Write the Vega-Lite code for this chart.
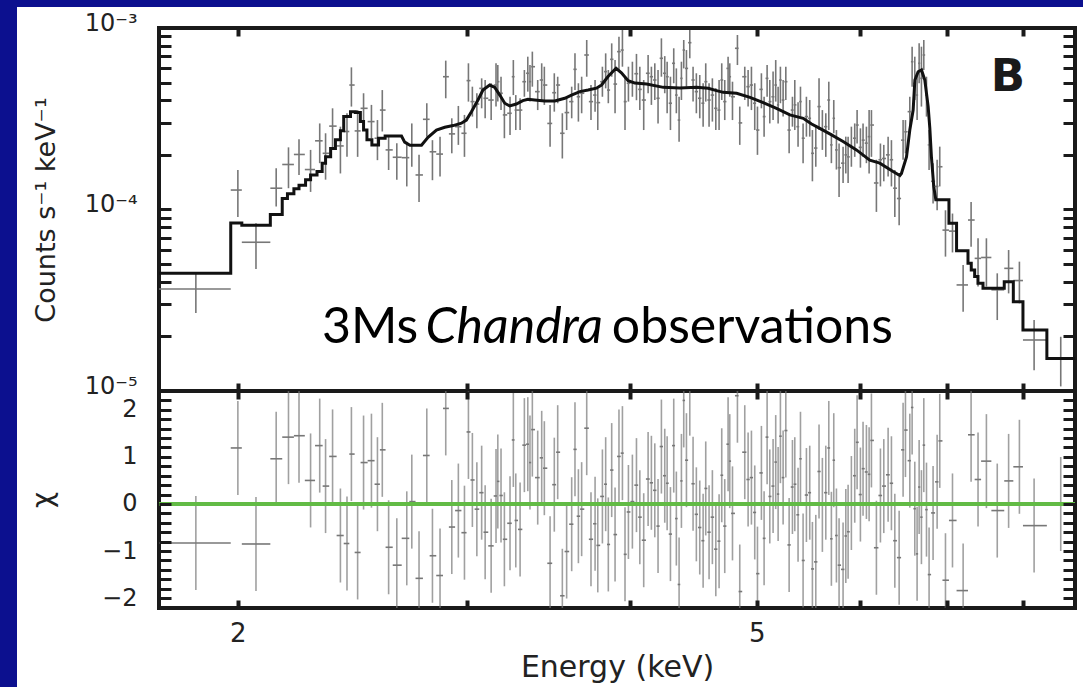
{
"$schema": "https://vega.github.io/schema/vega-lite/v6.json",
"padding": 0,
"background": "white",
"bounds": "flush",
"spacing": 0,
"datasets": {
"spec": [
{"e":1.857,"a":1.74,"b":1.975,"c":3.65e-5,"lo":2.69e-5,"hi":4.53e-5,"r":-0.83},
{"e":2.0,"a":1.975,"b":2.014,"c":1.28e-4,"lo":9.1e-5,"hi":1.65e-4,"r":1.19},
{"e":2.065,"a":2.014,"b":2.118,"c":6.6e-5,"lo":4.7e-5,"hi":8.4e-5,"r":-0.85},
{"e":2.140,"a":2.118,"b":2.163,"c":1.31e-4,"lo":1.04e-4,"hi":1.69e-4,"r":0.96},
{"e":2.187,"a":2.163,"b":2.208,"c":1.77e-4,"lo":1.31e-4,"hi":2.20e-4,"r":1.42},
{"e":2.228,"a":2.208,"b":2.251,"c":2.01e-4,"lo":1.55e-4,"hi":2.44e-4,"r":1.45},
{"e":2.274,"a":2.251,"b":2.292,"c":1.66e-4,"lo":1.25e-4,"hi":2.13e-4,"r":0.50},
{"e":2.311,"a":2.292,"b":2.323,"c":2.39e-4,"lo":1.80e-4,"hi":2.98e-4,"r":1.24},
{"e":2.335,"a":2.323,"b":2.350,"c":2.04e-4,"lo":1.46e-4,"hi":2.63e-4,"r":0.38},
{"e":2.364,"a":2.350,"b":2.381,"c":2.88e-4,"lo":2.17e-4,"hi":3.61e-4,"r":1.01},
{"e":2.397,"a":2.381,"b":2.411,"c":2.24e-4,"lo":1.58e-4,"hi":2.86e-4,"r":-0.67},
{"e":2.425,"a":2.411,"b":2.435,"c":2.69e-4,"lo":1.95e-4,"hi":3.39e-4,"r":-0.84},
{"e":2.444,"a":2.435,"b":2.458,"c":4.85e-4,"lo":3.69e-4,"hi":6.07e-4,"r":1.06},
{"e":2.471,"a":2.458,"b":2.484,"c":2.71e-4,"lo":1.95e-4,"hi":3.53e-4,"r":-1.03},
{"e":2.497,"a":2.484,"b":2.515,"c":3.61e-4,"lo":2.86e-4,"hi":4.37e-4,"r":0.88},
{"e":2.532,"a":2.515,"b":2.546,"c":3.05e-4,"lo":2.47e-4,"hi":3.77e-4,"r":0.92},
{"e":2.559,"a":2.546,"b":2.570,"c":2.47e-4,"lo":1.87e-4,"hi":3.11e-4,"r":0.42},
{"e":2.581,"a":2.570,"b":2.596,"c":3.53e-4,"lo":2.69e-4,"hi":4.55e-4,"r":1.15},
{"e":2.610,"a":2.596,"b":2.629,"c":2.13e-4,"lo":1.65e-4,"hi":2.52e-4,"r":-0.92},
{"e":2.648,"a":2.629,"b":2.671,"c":1.94e-4,"lo":1.46e-4,"hi":2.32e-4,"r":-1.3},
{"e":2.695,"a":2.671,"b":2.707,"c":1.93e-4,"lo":1.34e-4,"hi":2.36e-4,"r":-0.73},
{"e":2.719,"a":2.707,"b":2.737,"c":2.27e-4,"lo":1.72e-4,"hi":2.98e-4,"r":0.05},
{"e":2.754,"a":2.737,"b":2.773,"c":1.55e-4,"lo":1.10e-4,"hi":2.00e-4,"r":-1.58},
{"e":2.792,"a":2.773,"b":2.806,"c":3.14e-4,"lo":2.52e-4,"hi":3.85e-4,"r":1.03},
{"e":2.820,"a":2.806,"b":2.839,"c":2.08e-4,"lo":1.45e-4,"hi":2.41e-4,"r":-1.1},
{"e":2.858,"a":2.839,"b":2.873,"c":2.02e-4,"lo":1.52e-4,"hi":2.52e-4,"r":-1.52},
{"e":2.887,"a":2.873,"b":2.903,"c":5.39e-4,"lo":4.10e-4,"hi":6.61e-4,"r":2.03},
{"e":2.918,"a":2.903,"b":2.935,"c":2.61e-4,"lo":2.04e-4,"hi":3.18e-4,"r":-0.49},
{"e":2.952,"a":2.935,"b":2.968,"c":2.86e-4,"lo":2.27e-4,"hi":3.72e-4,"r":-0.14},
{"e":2.984,"a":2.968,"b":2.995,"c":2.63e-4,"lo":1.95e-4,"hi":3.32e-4,"r":-0.61},
{"e":3.005,"a":2.995,"b":3.016,"c":5.13e-4,"lo":3.93e-4,"hi":6.39e-4,"r":1.53},
{"e":3.026,"a":3.016,"b":3.038,"c":3.93e-4,"lo":3.25e-4,"hi":4.75e-4,"r":0.51},
{"e":3.050,"a":3.038,"b":3.063,"c":3.81e-4,"lo":2.80e-4,"hi":4.37e-4,"r":-0.11},
{"e":3.076,"a":3.063,"b":3.086,"c":4.65e-4,"lo":3.61e-4,"hi":5.28e-4,"r":0.24},
{"e":3.095,"a":3.086,"b":3.112,"c":4.10e-4,"lo":3.18e-4,"hi":5.17e-4,"r":-0.6},
{"e":3.128,"a":3.112,"b":3.142,"c":4.01e-4,"lo":3.11e-4,"hi":4.96e-4,"r":-0.89},
{"e":3.155,"a":3.142,"b":3.160,"c":4.85e-4,"lo":3.69e-4,"hi":6.39e-4,"r":0.17},
{"e":3.165,"a":3.160,"b":3.174,"c":5.06e-4,"lo":3.93e-4,"hi":6.25e-4,"r":0.48},
{"e":3.183,"a":3.174,"b":3.193,"c":4.37e-4,"lo":3.53e-4,"hi":5.39e-4,"r":0.18},
{"e":3.202,"a":3.193,"b":3.218,"c":3.32e-4,"lo":2.47e-4,"hi":3.93e-4,"r":-0.75},
{"e":3.234,"a":3.218,"b":3.244,"c":3.39e-4,"lo":2.57e-4,"hi":4.18e-4,"r":-0.41},
{"e":3.253,"a":3.244,"b":3.260,"c":5.39e-4,"lo":4.27e-4,"hi":6.66e-4,"r":1.36},
{"e":3.267,"a":3.260,"b":3.280,"c":3.53e-4,"lo":2.74e-4,"hi":4.27e-4,"r":-0.35},
{"e":3.292,"a":3.280,"b":3.305,"c":3.53e-4,"lo":2.74e-4,"hi":4.10e-4,"r":-0.54},
{"e":3.317,"a":3.305,"b":3.327,"c":5.06e-4,"lo":4.18e-4,"hi":5.87e-4,"r":1.25},
{"e":3.337,"a":3.327,"b":3.344,"c":5.63e-4,"lo":4.46e-4,"hi":6.95e-4,"r":1.27},
{"e":3.350,"a":3.344,"b":3.357,"c":5.06e-4,"lo":3.93e-4,"hi":6.25e-4,"r":0.88},
{"e":3.364,"a":3.357,"b":3.380,"c":6.12e-4,"lo":4.75e-4,"hi":7.41e-4,"r":1.58},
{"e":3.396,"a":3.380,"b":3.408,"c":4.46e-4,"lo":3.53e-4,"hi":5.17e-4,"r":0.56},
{"e":3.420,"a":3.408,"b":3.428,"c":5.17e-4,"lo":3.93e-4,"hi":6.39e-4,"r":0.98},
{"e":3.436,"a":3.428,"b":3.454,"c":4.85e-4,"lo":3.77e-4,"hi":6.12e-4,"r":0.76},
{"e":3.471,"a":3.454,"b":3.484,"c":2.98e-4,"lo":2.22e-4,"hi":3.77e-4,"r":-1.26},
{"e":3.497,"a":3.484,"b":3.508,"c":4.40e-4,"lo":3.46e-4,"hi":5.63e-4,"r":0.41},
{"e":3.518,"a":3.508,"b":3.533,"c":4.85e-4,"lo":3.85e-4,"hi":5.39e-4,"r":1.1},
{"e":3.547,"a":3.533,"b":3.561,"c":2.63e-4,"lo":1.91e-4,"hi":3.39e-4,"r":-1.95},
{"e":3.574,"a":3.561,"b":3.590,"c":3.42e-4,"lo":2.74e-4,"hi":4.18e-4,"r":-1.01},
{"e":3.606,"a":3.590,"b":3.617,"c":3.93e-4,"lo":3.18e-4,"hi":4.75e-4,"r":-0.43},
{"e":3.627,"a":3.617,"b":3.638,"c":5.92e-4,"lo":4.55e-4,"hi":7.25e-4,"r":1.16},
{"e":3.649,"a":3.638,"b":3.660,"c":4.18e-4,"lo":3.05e-4,"hi":4.96e-4,"r":-0.26},
{"e":3.670,"a":3.660,"b":3.687,"c":4.37e-4,"lo":3.39e-4,"hi":5.39e-4,"r":-0.11},
{"e":3.703,"a":3.687,"b":3.717,"c":7.10e-4,"lo":5.39e-4,"hi":8.59e-4,"r":1.61},
{"e":3.731,"a":3.717,"b":3.745,"c":3.93e-4,"lo":3.11e-4,"hi":4.85e-4,"r":-0.75},
{"e":3.758,"a":3.745,"b":3.767,"c":4.27e-4,"lo":3.46e-4,"hi":5.17e-4,"r":-0.42},
{"e":3.776,"a":3.767,"b":3.792,"c":3.88e-4,"lo":2.74e-4,"hi":4.65e-4,"r":-0.88},
{"e":3.807,"a":3.792,"b":3.818,"c":5.06e-4,"lo":4.18e-4,"hi":6.12e-4,"r":0.16},
{"e":3.829,"a":3.818,"b":3.838,"c":5.75e-4,"lo":4.65e-4,"hi":7.25e-4,"r":0.42},
{"e":3.847,"a":3.838,"b":3.859,"c":4.55e-4,"lo":3.85e-4,"hi":5.87e-4,"r":-0.86},
{"e":3.870,"a":3.859,"b":3.882,"c":6.72e-4,"lo":5.39e-4,"hi":8.23e-4,"r":0.72},
{"e":3.893,"a":3.882,"b":3.907,"c":4.91e-4,"lo":3.39e-4,"hi":6.66e-4,"r":-0.65},
{"e":3.920,"a":3.907,"b":3.932,"c":7.41e-4,"lo":5.87e-4,"hi":8.96e-4,"r":1.01},
{"e":3.944,"a":3.932,"b":3.953,"c":7.56e-4,"lo":6.12e-4,"hi":9.75e-4,"r":1.08},
{"e":3.962,"a":3.953,"b":3.974,"c":3.93e-4,"lo":2.74e-4,"hi":5.39e-4,"r":-1.07},
{"e":3.986,"a":3.974,"b":4.000,"c":4.96e-4,"lo":3.93e-4,"hi":6.12e-4,"r":-0.17},
{"e":4.014,"a":4.000,"b":4.028,"c":5.06e-4,"lo":4.18e-4,"hi":6.52e-4,"r":0.05},
{"e":4.043,"a":4.028,"b":4.055,"c":5.6e-4,"lo":4.0e-4,"hi":7.2e-4,"r":0.4},
{"e":4.067,"a":4.055,"b":4.081,"c":4.59e-4,"lo":3.53e-4,"hi":6.12e-4,"r":-0.28},
{"e":4.095,"a":4.081,"b":4.111,"c":4.01e-4,"lo":2.74e-4,"hi":5.17e-4,"r":-0.77},
{"e":4.127,"a":4.111,"b":4.139,"c":5.63e-4,"lo":4.37e-4,"hi":7.10e-4,"r":0.53},
{"e":4.151,"a":4.139,"b":4.163,"c":5.39e-4,"lo":3.77e-4,"hi":6.12e-4,"r":0.45},
{"e":4.176,"a":4.163,"b":4.188,"c":5.17e-4,"lo":4.01e-4,"hi":6.39e-4,"r":0.29},
{"e":4.200,"a":4.188,"b":4.212,"c":4.10e-4,"lo":2.98e-4,"hi":5.87e-4,"r":-0.47},
{"e":4.225,"a":4.212,"b":4.237,"c":6.81e-4,"lo":5.39e-4,"hi":8.77e-4,"r":1.22},
{"e":4.250,"a":4.237,"b":4.259,"c":5.63e-4,"lo":4.37e-4,"hi":7.0e-4,"r":0.6},
{"e":4.268,"a":4.259,"b":4.280,"c":5.39e-4,"lo":3.39e-4,"hi":6.52e-4,"r":0.44},
{"e":4.293,"a":4.280,"b":4.305,"c":3.85e-4,"lo":2.74e-4,"hi":5.39e-4,"r":-0.64},
{"e":4.318,"a":4.305,"b":4.328,"c":6.39e-4,"lo":4.96e-4,"hi":7.73e-4,"r":1.24},
{"e":4.338,"a":4.328,"b":4.348,"c":4.27e-4,"lo":3.39e-4,"hi":5.99e-4,"r":-0.31},
{"e":4.359,"a":4.348,"b":4.368,"c":3.11e-4,"lo":2.36e-4,"hi":4.18e-4,"r":-1.71},
{"e":4.377,"a":4.368,"b":4.386,"c":5.28e-4,"lo":4.01e-4,"hi":6.52e-4,"r":0.49},
{"e":4.395,"a":4.386,"b":4.405,"c":7.56e-4,"lo":5.99e-4,"hi":8.59e-4,"r":2.2},
{"e":4.416,"a":4.405,"b":4.429,"c":5.99e-4,"lo":4.75e-4,"hi":7.56e-4,"r":0.93},
{"e":4.442,"a":4.429,"b":4.455,"c":8.30e-4,"lo":6.81e-4,"hi":9.75e-4,"r":2.45},
{"e":4.468,"a":4.455,"b":4.481,"c":5.17e-4,"lo":3.93e-4,"hi":6.12e-4,"r":0.43},
{"e":4.494,"a":4.481,"b":4.507,"c":4.46e-4,"lo":3.39e-4,"hi":5.63e-4,"r":-0.22},
{"e":4.521,"a":4.507,"b":4.534,"c":4.10e-4,"lo":3.18e-4,"hi":5.51e-4,"r":-0.5},
{"e":4.548,"a":4.534,"b":4.558,"c":3.85e-4,"lo":2.86e-4,"hi":4.96e-4,"r":-0.78},
{"e":4.569,"a":4.558,"b":4.582,"c":5.06e-4,"lo":3.93e-4,"hi":6.39e-4,"r":0.33},
{"e":4.596,"a":4.582,"b":4.609,"c":4.01e-4,"lo":2.86e-4,"hi":4.96e-4,"r":-0.6},
{"e":4.623,"a":4.609,"b":4.637,"c":4.27e-4,"lo":3.05e-4,"hi":5.28e-4,"r":-0.28},
{"e":4.651,"a":4.637,"b":4.664,"c":3.61e-4,"lo":2.74e-4,"hi":4.65e-4,"r":-0.96},
{"e":4.678,"a":4.664,"b":4.689,"c":3.53e-4,"lo":2.74e-4,"hi":5.17e-4,"r":-0.79},
{"e":4.700,"a":4.689,"b":4.712,"c":5.17e-4,"lo":4.01e-4,"hi":6.39e-4,"r":0.61},
{"e":4.725,"a":4.712,"b":4.739,"c":3.93e-4,"lo":3.11e-4,"hi":5.17e-4,"r":-0.47},
{"e":4.753,"a":4.739,"b":4.760,"c":5.99e-4,"lo":4.46e-4,"hi":6.95e-4,"r":1.27},
{"e":4.767,"a":4.760,"b":4.778,"c":5.39e-4,"lo":4.18e-4,"hi":6.39e-4,"r":0.91},
{"e":4.790,"a":4.778,"b":4.811,"c":4.18e-4,"lo":3.11e-4,"hi":5.06e-4,"r":-0.2},
{"e":4.832,"a":4.811,"b":4.842,"c":7.73e-4,"lo":6.25e-4,"hi":9.15e-4,"r":2.3},
{"e":4.852,"a":4.842,"b":4.873,"c":3.00e-4,"lo":2.27e-4,"hi":3.69e-4,"r":-1.86},
{"e":4.895,"a":4.873,"b":4.909,"c":5.39e-4,"lo":4.01e-4,"hi":6.12e-4,"r":1.1},
{"e":4.924,"a":4.909,"b":4.938,"c":4.75e-4,"lo":3.69e-4,"hi":5.87e-4,"r":0.52},
{"e":4.953,"a":4.938,"b":4.967,"c":4.85e-4,"lo":3.53e-4,"hi":6.12e-4,"r":0.56},
{"e":4.982,"a":4.967,"b":4.994,"c":3.85e-4,"lo":2.74e-4,"hi":4.96e-4,"r":-0.18},
{"e":5.006,"a":4.994,"b":5.023,"c":2.74e-4,"lo":2.00e-4,"hi":3.69e-4,"r":-1.48},
{"e":5.041,"a":5.023,"b":5.053,"c":4.59e-4,"lo":3.61e-4,"hi":5.63e-4,"r":0.66},
{"e":5.065,"a":5.053,"b":5.078,"c":3.25e-4,"lo":2.52e-4,"hi":4.18e-4,"r":-0.73},
{"e":5.092,"a":5.078,"b":5.104,"c":5.28e-4,"lo":4.18e-4,"hi":6.25e-4,"r":1.42},
{"e":5.116,"a":5.104,"b":5.131,"c":3.93e-4,"lo":2.98e-4,"hi":5.17e-4,"r":0.16},
{"e":5.146,"a":5.131,"b":5.158,"c":4.18e-4,"lo":3.11e-4,"hi":5.75e-4,"r":0.38},
{"e":5.170,"a":5.158,"b":5.181,"c":4.85e-4,"lo":3.93e-4,"hi":6.66e-4,"r":0.89},
{"e":5.192,"a":5.181,"b":5.202,"c":3.77e-4,"lo":2.98e-4,"hi":4.75e-4,"r":0.21},
{"e":5.213,"a":5.202,"b":5.225,"c":5.17e-4,"lo":3.85e-4,"hi":6.12e-4,"r":1.44},
{"e":5.238,"a":5.225,"b":5.250,"c":4.01e-4,"lo":3.25e-4,"hi":5.17e-4,"r":0.56},
{"e":5.263,"a":5.250,"b":5.278,"c":5.06e-4,"lo":4.01e-4,"hi":6.12e-4,"r":1.56},
{"e":5.294,"a":5.278,"b":5.309,"c":2.74e-4,"lo":2.04e-4,"hi":3.39e-4,"r":-0.87},
{"e":5.325,"a":5.309,"b":5.336,"c":3.53e-4,"lo":2.86e-4,"hi":4.18e-4,"r":0.36},
{"e":5.347,"a":5.336,"b":5.362,"c":3.77e-4,"lo":2.74e-4,"hi":5.17e-4,"r":0.42},
{"e":5.378,"a":5.362,"b":5.389,"c":2.86e-4,"lo":2.22e-4,"hi":3.9e-4,"r":-0.23},
{"e":5.401,"a":5.389,"b":5.413,"c":3.93e-4,"lo":3.25e-4,"hi":4.75e-4,"r":0.96},
{"e":5.426,"a":5.413,"b":5.442,"c":2.47e-4,"lo":1.80e-4,"hi":2.98e-4,"r":-1.2},
{"e":5.458,"a":5.442,"b":5.474,"c":3.25e-4,"lo":2.52e-4,"hi":4.18e-4,"r":0.19},
{"e":5.490,"a":5.474,"b":5.503,"c":3.18e-4,"lo":2.52e-4,"hi":4.01e-4,"r":0.24},
{"e":5.516,"a":5.503,"b":5.532,"c":2.04e-4,"lo":1.43e-4,"hi":2.74e-4,"r":-1.38},
{"e":5.549,"a":5.532,"b":5.565,"c":2.18e-4,"lo":1.72e-4,"hi":2.86e-4,"r":-1.23},
{"e":5.581,"a":5.565,"b":5.597,"c":3.69e-4,"lo":2.74e-4,"hi":5.28e-4,"r":0.69},
{"e":5.614,"a":5.597,"b":5.631,"c":2.74e-4,"lo":2.13e-4,"hi":3.53e-4,"r":-0.02},
{"e":5.648,"a":5.631,"b":5.663,"c":2.86e-4,"lo":1.95e-4,"hi":3.39e-4,"r":0.24},
{"e":5.678,"a":5.663,"b":5.691,"c":4.01e-4,"lo":2.74e-4,"hi":5.06e-4,"r":1.19},
{"e":5.704,"a":5.691,"b":5.716,"c":2.27e-4,"lo":1.80e-4,"hi":2.63e-4,"r":-0.74},
{"e":5.728,"a":5.716,"b":5.741,"c":3.18e-4,"lo":2.63e-4,"hi":4.01e-4,"r":0.93},
{"e":5.755,"a":5.741,"b":5.768,"c":2.13e-4,"lo":1.66e-4,"hi":2.74e-4,"r":-0.67},
{"e":5.782,"a":5.768,"b":5.802,"c":1.70e-4,"lo":1.17e-4,"hi":2.31e-4,"r":-1.3},
{"e":5.823,"a":5.802,"b":5.837,"c":1.80e-4,"lo":1.40e-4,"hi":2.22e-4,"r":-1.39},
{"e":5.851,"a":5.837,"b":5.863,"c":2.00e-4,"lo":1.58e-4,"hi":2.52e-4,"r":-0.68},
{"e":5.875,"a":5.863,"b":5.892,"c":1.95e-4,"lo":1.40e-4,"hi":2.52e-4,"r":-0.59},
{"e":5.909,"a":5.892,"b":5.926,"c":2.22e-4,"lo":1.72e-4,"hi":2.86e-4,"r":0.02},
{"e":5.944,"a":5.926,"b":5.956,"c":2.47e-4,"lo":1.95e-4,"hi":2.98e-4,"r":0.6},
{"e":5.969,"a":5.956,"b":5.986,"c":2.92e-4,"lo":2.31e-4,"hi":3.53e-4,"r":1.31},
{"e":6.004,"a":5.986,"b":6.018,"c":2.2e-4,"lo":1.7e-4,"hi":2.8e-4,"r":0.2},
{"e":6.032,"a":6.018,"b":6.050,"c":2.41e-4,"lo":1.95e-4,"hi":2.98e-4,"r":0.75},
{"e":6.068,"a":6.050,"b":6.082,"c":2.32e-4,"lo":1.80e-4,"hi":2.86e-4,"r":0.68},
{"e":6.097,"a":6.082,"b":6.110,"c":2.52e-4,"lo":1.58e-4,"hi":3.53e-4,"r":0.63},
{"e":6.122,"a":6.110,"b":6.149,"c":2.92e-4,"lo":1.95e-4,"hi":3.53e-4,"r":1.35},
{"e":6.176,"a":6.149,"b":6.198,"c":1.40e-4,"lo":9.7e-5,"hi":1.88e-4,"r":-0.93},
{"e":6.220,"a":6.198,"b":6.238,"c":1.88e-4,"lo":1.34e-4,"hi":2.31e-4,"r":0.18},
{"e":6.257,"a":6.238,"b":6.281,"c":1.91e-4,"lo":1.43e-4,"hi":2.27e-4,"r":0.38},
{"e":6.305,"a":6.281,"b":6.323,"c":2.00e-4,"lo":1.52e-4,"hi":2.52e-4,"r":0.62},
{"e":6.342,"a":6.323,"b":6.361,"c":1.88e-4,"lo":1.34e-4,"hi":2.41e-4,"r":0.44},
{"e":6.380,"a":6.361,"b":6.404,"c":1.31e-4,"lo":9.1e-5,"hi":1.65e-4,"r":-0.78},
{"e":6.429,"a":6.404,"b":6.451,"c":1.15e-4,"lo":8.2e-5,"hi":1.52e-4,"r":-1.14},
{"e":6.474,"a":6.451,"b":6.487,"c":2.41e-4,"lo":1.88e-4,"hi":3.11e-4,"r":1.15},
{"e":6.501,"a":6.487,"b":6.526,"c":2.68e-4,"lo":2.04e-4,"hi":3.11e-4,"r":1.57},
{"e":6.551,"a":6.526,"b":6.564,"c":3.46e-4,"lo":2.63e-4,"hi":4.18e-4,"r":0.92},
{"e":6.578,"a":6.564,"b":6.593,"c":6.52e-4,"lo":4.75e-4,"hi":7.89e-4,"r":2.05},
{"e":6.609,"a":6.593,"b":6.622,"c":4.96e-4,"lo":4.01e-4,"hi":6.95e-4,"r":-0.1},
{"e":6.636,"a":6.622,"b":6.648,"c":4.27e-4,"lo":3.11e-4,"hi":5.63e-4,"r":-1.06},
{"e":6.660,"a":6.648,"b":6.673,"c":6.39e-4,"lo":4.96e-4,"hi":8.23e-4,"r":0.36},
{"e":6.687,"a":6.673,"b":6.701,"c":5.28e-4,"lo":3.69e-4,"hi":7.89e-4,"r":-0.28},
{"e":6.715,"a":6.701,"b":6.731,"c":7.10e-4,"lo":5.87e-4,"hi":8.59e-4,"r":1.25},
{"e":6.747,"a":6.731,"b":6.762,"c":4.27e-4,"lo":3.25e-4,"hi":5.39e-4,"r":-0.12},
{"e":6.778,"a":6.762,"b":6.802,"c":2.27e-4,"lo":1.65e-4,"hi":2.74e-4,"r":-1.5},
{"e":6.826,"a":6.802,"b":6.850,"c":1.43e-4,"lo":1.08e-4,"hi":1.80e-4,"r":-0.19},
{"e":6.875,"a":6.850,"b":6.891,"c":1.34e-4,"lo":9.9e-5,"hi":1.88e-4,"r":0.47},
{"e":6.907,"a":6.891,"b":6.94,"c":1.72e-4,"lo":1.34e-4,"hi":2.22e-4,"r":1.34},
{"e":6.977,"a":6.94,"b":7.02,"c":7.7e-5,"lo":5.5e-5,"hi":9.9e-5,"r":-1.62},
{"e":7.064,"a":7.02,"b":7.115,"c":7.6e-5,"lo":5.8e-5,"hi":9.5e-5,"r":-0.35},
{"e":7.198,"a":7.115,"b":7.26,"c":3.84e-5,"lo":2.73e-5,"hi":4.95e-5,"r":-1.84},
{"e":7.30,"a":7.26,"b":7.346,"c":8.75e-5,"lo":6.24e-5,"hi":1.10e-4,"r":1.47},
{"e":7.39,"a":7.346,"b":7.43,"c":5.38e-5,"lo":3.76e-5,"hi":6.94e-5,"r":0.52},
{"e":7.50,"a":7.43,"b":7.566,"c":5.44e-5,"lo":3.76e-5,"hi":6.94e-5,"r":0.91},
{"e":7.645,"a":7.566,"b":7.74,"c":3.61e-5,"lo":2.46e-5,"hi":4.45e-5,"r":-0.14},
{"e":7.80,"a":7.74,"b":7.865,"c":4.74e-5,"lo":3.45e-5,"hi":5.98e-5,"r":0.49},
{"e":7.95,"a":7.865,"b":8.0,"c":4.06e-5,"lo":3.04e-5,"hi":5.16e-5,"r":0.79},
{"e":8.159,"a":8.0,"b":8.345,"c":1.91e-5,"lo":1.30e-5,"hi":2.46e-5,"r":-0.46},
{"e":8.552,"a":8.345,"b":8.77,"c":1.51e-5,"lo":1.06e-5,"hi":1.99e-5,"r":0.0}
],
"model": [
{"e":1.74,"m":4.46e-5},{"e":1.975,"m":4.46e-5},{"e":1.975,"m":8.43e-5},{"e":2.014,"m":8.43e-5},{"e":2.014,"m":8.2e-5},{"e":2.118,"m":8.2e-5},{"e":2.118,"m":9.4e-5},{"e":2.163,"m":9.4e-5},{"e":2.163,"m":1.15e-4},{"e":2.183,"m":1.15e-4},{"e":2.183,"m":1.22e-4},{"e":2.208,"m":1.22e-4},{"e":2.208,"m":1.30e-4},{"e":2.228,"m":1.30e-4},{"e":2.228,"m":1.36e-4},{"e":2.254,"m":1.36e-4},{"e":2.254,"m":1.46e-4},{"e":2.274,"m":1.46e-4},{"e":2.274,"m":1.55e-4},{"e":2.300,"m":1.55e-4},{"e":2.300,"m":1.62e-4},{"e":2.321,"m":1.62e-4},{"e":2.321,"m":1.80e-4},{"e":2.335,"m":1.80e-4},{"e":2.335,"m":1.95e-4},{"e":2.356,"m":1.95e-4},{"e":2.356,"m":2.17e-4},{"e":2.376,"m":2.17e-4},{"e":2.376,"m":2.42e-4},{"e":2.397,"m":2.42e-4},{"e":2.397,"m":2.72e-4},{"e":2.411,"m":2.72e-4},{"e":2.411,"m":3.25e-4},{"e":2.440,"m":3.25e-4},{"e":2.440,"m":3.46e-4},{"e":2.461,"m":3.46e-4},{"e":2.461,"m":3.42e-4},{"e":2.483,"m":3.42e-4},{"e":2.483,"m":3.05e-4},{"e":2.497,"m":3.05e-4},{"e":2.497,"m":2.74e-4},{"e":2.512,"m":2.74e-4},{"e":2.512,"m":2.42e-4},{"e":2.534,"m":2.42e-4},{"e":2.534,"m":2.27e-4},{"e":2.564,"m":2.27e-4},{"e":2.564,"m":2.47e-4},{"e":2.594,"m":2.47e-4},{"e":2.594,"m":2.54e-4},{"e":2.670,"m":2.54e-4},
{"e":2.685,"m":2.35e-4},{"e":2.710,"m":2.26e-4},{"e":2.766,"m":2.26e-4},{"e":2.798,"m":2.50e-4},{"e":2.840,"m":2.74e-4},{"e":2.882,"m":2.84e-4},{"e":2.925,"m":2.90e-4},{"e":2.968,"m":2.99e-4},{"e":2.994,"m":3.11e-4},{"e":3.021,"m":3.46e-4},{"e":3.056,"m":4.01e-4},{"e":3.083,"m":4.55e-4},{"e":3.120,"m":4.85e-4},{"e":3.148,"m":4.71e-4},{"e":3.176,"m":4.27e-4},{"e":3.204,"m":3.85e-4},{"e":3.232,"m":3.72e-4},{"e":3.270,"m":3.81e-4},{"e":3.308,"m":3.98e-4},{"e":3.338,"m":4.05e-4},{"e":3.378,"m":4.01e-4},{"e":3.438,"m":3.96e-4},{"e":3.500,"m":3.96e-4},{"e":3.562,"m":4.10e-4},{"e":3.605,"m":4.27e-4},{"e":3.658,"m":4.46e-4},{"e":3.712,"m":4.55e-4},{"e":3.767,"m":4.66e-4},{"e":3.801,"m":4.85e-4},{"e":3.845,"m":5.40e-4},{"e":3.900,"m":6.0e-4},{"e":3.937,"m":5.67e-4},{"e":3.984,"m":5.12e-4},{"e":4.031,"m":4.97e-4},{"e":4.116,"m":4.91e-4},{"e":4.239,"m":4.71e-4},{"e":4.365,"m":4.67e-4},{"e":4.495,"m":4.71e-4},{"e":4.589,"m":4.65e-4},{"e":4.657,"m":4.52e-4},{"e":4.712,"m":4.42e-4},{"e":4.825,"m":4.37e-4},{"e":4.940,"m":4.15e-4},{"e":5.057,"m":3.88e-4},{"e":5.177,"m":3.61e-4},{"e":5.301,"m":3.32e-4},{"e":5.427,"m":3.18e-4},{"e":5.508,"m":2.96e-4},{"e":5.589,"m":2.80e-4},{"e":5.688,"m":2.61e-4},{"e":5.823,"m":2.37e-4},{"e":5.962,"m":2.13e-4},{"e":6.104,"m":1.87e-4},{"e":6.213,"m":1.80e-4},{"e":6.360,"m":1.62e-4},{"e":6.437,"m":1.54e-4},{"e":6.455,"m":1.58e-4},{"e":6.513,"m":1.95e-4},{"e":6.551,"m":2.74e-4},{"e":6.590,"m":3.53e-4},{"e":6.610,"m":5.17e-4},{"e":6.648,"m":5.74e-4},{"e":6.688,"m":5.87e-4},{"e":6.727,"m":5.17e-4},{"e":6.767,"m":3.69e-4},{"e":6.787,"m":2.80e-4},{"e":6.806,"m":1.95e-4},{"e":6.834,"m":1.34e-4},{"e":6.859,"m":1.13e-4},
{"e":7.02,"m":1.13e-4},{"e":7.02,"m":8.39e-5},{"e":7.115,"m":8.39e-5},{"e":7.115,"m":5.93e-5},{"e":7.26,"m":5.93e-5},{"e":7.26,"m":5.05e-5},{"e":7.302,"m":5.05e-5},{"e":7.302,"m":4.64e-5},{"e":7.346,"m":4.64e-5},{"e":7.346,"m":4.27e-5},{"e":7.389,"m":4.27e-5},{"e":7.389,"m":3.92e-5},{"e":7.455,"m":3.92e-5},{"e":7.455,"m":3.68e-5},{"e":7.74,"m":3.68e-5},{"e":7.74,"m":4.0e-5},{"e":7.865,"m":4.0e-5},{"e":7.865,"m":3.10e-5},{"e":8.0,"m":3.10e-5},{"e":8.0,"m":2.17e-5},{"e":8.345,"m":2.17e-5},{"e":8.345,"m":1.51e-5},{"e":8.77,"m":1.51e-5}
]
},
"vconcat": [
{"width": 1083, "height": 7, "data": {"values": []}, "mark": "point", "view": {"fill": "#0c108f", "stroke": null}},
{"bounds": "flush", "spacing": 142, "hconcat": [
{"width": 17, "height": 680, "data": {"values": []}, "mark": "point", "view": {"fill": "#0c108f", "stroke": null}},
{"bounds": "flush", "spacing": 0, "vconcat": [
{"width": 916, "height": 21, "data": {"values": []}, "mark": "point", "view": {"stroke": null}},
{"width": 916, "height": 363, "data": {"name": "spec"},
 "view": {"fill": "white", "stroke": "#1a1a1a", "strokeWidth": 4},
 "layer": [
 {"mark": {"type": "rule", "color": "#777777", "strokeWidth": 1.6, "clip": true},
  "encoding": {
   "x": {"field": "e", "type": "quantitative", "scale": {"type": "log", "domain": [1.74, 8.77], "nice": false},
    "axis": {"orient": "bottom", "values": [2,3,4,5,6,7,8], "labels": false, "title": null, "tickSize": -8, "tickWidth": 4, "zindex": 1}},
   "y": {"field": "lo", "type": "quantitative", "scale": {"type": "log", "domain": [0.00001, 0.001], "nice": false},
    "axis": {"orient": "left", "zindex": 1,
     "values": [0.00001,0.00002,0.00003,0.00004,0.00005,0.00006,0.00007,0.00008,0.00009,0.0001,0.0002,0.0003,0.0004,0.0005,0.0006,0.0007,0.0008,0.0009,0.001],
     "labelExpr": "datum.value == 0.001 ? '10⁻³' : datum.value == 0.0001 ? '10⁻⁴' : datum.value == 0.00001 ? '10⁻⁵' : ''",
     "labelOverlap": false, "labelFontSize": 24, "labelPadding": 34, "labelOffset": -5, "tickSize": -12, "tickWidth": 3,
     "encode": {"ticks": {"update": {"x2": {"signal": "abs(log(datum.value)/LN10 - round(log(datum.value)/LN10)) < 0.001 ? 13 : 7"}}}},
     "title": "Counts s⁻¹ keV⁻¹", "titleFontSize": 27, "titlePadding": 24}},
   "y2": {"field": "hi"}}},
 {"mark": {"type": "rule", "color": "#777777", "strokeWidth": 1.6, "clip": true},
  "encoding": {
   "x": {"field": "a", "type": "quantitative",
    "axis": {"orient": "top", "values": [2,3,4,5,6,7,8], "labels": false, "title": null, "tickSize": -8, "tickWidth": 4, "zindex": 1}},
   "x2": {"field": "b"},
   "y": {"field": "c", "type": "quantitative",
    "axis": {"orient": "right", "zindex": 1, "labels": false, "title": null,
     "values": [0.00001,0.00002,0.00003,0.00004,0.00005,0.00006,0.00007,0.00008,0.00009,0.0001,0.0002,0.0003,0.0004,0.0005,0.0006,0.0007,0.0008,0.0009,0.001],
     "tickSize": -12, "tickWidth": 3,
     "encode": {"ticks": {"update": {"x2": {"signal": "abs(log(datum.value)/LN10 - round(log(datum.value)/LN10)) < 0.001 ? -13 : -7"}}}}}}}},
 {"data": {"name": "model"},
  "mark": {"type": "line", "color": "#111111", "strokeWidth": 3, "clip": true},
  "encoding": {
   "x": {"field": "e", "type": "quantitative", "axis": null},
   "y": {"field": "m", "type": "quantitative", "axis": null},
   "order": {"value": null}}},
 {"data": {"values": [{"e": 2.32, "c": 0.0000184, "t": "3Ms"}, {"e": 3.871, "c": 0.0000184, "t": "observations"}]},
  "mark": {"type": "text", "align": "left", "baseline": "alphabetic", "font": "Lato", "fontSize": 50, "color": "#000000"},
  "encoding": {
   "x": {"field": "e", "type": "quantitative", "axis": null},
   "y": {"field": "c", "type": "quantitative", "axis": null},
   "text": {"field": "t"}}},
 {"data": {"values": [{"e": 2.785, "c": 0.0000184, "t": "Chandra"}]},
  "mark": {"type": "text", "align": "left", "baseline": "alphabetic", "font": "Lato", "fontStyle": "italic", "fontSize": 50, "color": "#000000"},
  "encoding": {
   "x": {"field": "e", "type": "quantitative", "axis": null},
   "y": {"field": "c", "type": "quantitative", "axis": null},
   "text": {"field": "t"}}},
 {"data": {"values": [{"e": 7.79, "c": 0.00045, "t": "B"}]},
  "mark": {"type": "text", "align": "center", "baseline": "alphabetic", "font": "DejaVu Sans", "fontWeight": "bold", "fontSize": 45, "color": "#1a1a1a"},
  "encoding": {
   "x": {"field": "e", "type": "quantitative", "axis": null},
   "y": {"field": "c", "type": "quantitative", "axis": null},
   "text": {"field": "t"}}}
 ]},
{"width": 916, "height": 217, "data": {"name": "spec"},
 "view": {"fill": "white", "stroke": "#1a1a1a", "strokeWidth": 4},
 "layer": [
 {"mark": {"type": "tick", "orient": "vertical", "size": 94, "thickness": 1.6, "color": "#777777", "clip": true},
  "encoding": {
   "x": {"field": "e", "type": "quantitative", "scale": {"type": "log", "domain": [1.74, 8.77], "nice": false},
    "axis": {"orient": "bottom", "values": [2,3,4,5,6,7,8], "labelExpr": "datum.value == 2 || datum.value == 5 ? '' + datum.value : ''",
     "labelFontSize": 26, "labelPadding": 20, "labelFlush": false, "labelOverlap": false, "tickSize": -8, "tickWidth": 4, "zindex": 1,
     "title": "Energy (keV)", "titleFontSize": 30, "titlePadding": 6}},
   "y": {"field": "r", "type": "quantitative", "scale": {"domain": [-2.21, 2.4], "nice": false, "zero": false},
    "axis": {"orient": "left", "zindex": 1,
     "values": [-2.2,-2,-1.8,-1.6,-1.4,-1.2,-1,-0.8,-0.6,-0.4,-0.2,0,0.2,0.4,0.6,0.8,1,1.2,1.4,1.6,1.8,2,2.2],
     "labelExpr": "abs(datum.value - round(datum.value)) < 0.01 ? format(datum.value, 'd') : ''",
     "labelOverlap": false, "labelFontSize": 24, "labelPadding": 34, "tickSize": -12, "tickWidth": 3,
     "encode": {"ticks": {"update": {"x2": {"signal": "abs(datum.value - round(datum.value)) < 0.01 ? 13 : 6"}}}},
     "title": "χ", "titleFontSize": 28, "titlePadding": 44}}}},
 {"mark": {"type": "rule", "color": "#777777", "strokeWidth": 1.6, "clip": true},
  "encoding": {
   "x": {"field": "a", "type": "quantitative",
    "axis": {"orient": "top", "values": [2,3,4,5,6,7,8], "labels": false, "title": null, "tickSize": -8, "tickWidth": 4, "zindex": 1}},
   "x2": {"field": "b"},
   "y": {"field": "r", "type": "quantitative",
    "axis": {"orient": "right", "zindex": 1, "labels": false, "title": null,
     "values": [-2.2,-2,-1.8,-1.6,-1.4,-1.2,-1,-0.8,-0.6,-0.4,-0.2,0,0.2,0.4,0.6,0.8,1,1.2,1.4,1.6,1.8,2,2.2],
     "tickSize": -12, "tickWidth": 3,
     "encode": {"ticks": {"update": {"x2": {"signal": "abs(datum.value - round(datum.value)) < 0.01 ? -13 : -6"}}}}}}}},
 {"mark": {"type": "rule", "color": "#62bb45", "strokeWidth": 4},
  "encoding": {"y": {"datum": 0, "type": "quantitative", "axis": null}}}
 ]}
]}
]}
],
"config": {
 "font": "DejaVu Sans",
 "view": {"stroke": null},
 "axis": {"grid": false, "domain": false, "labelColor": "#222222", "titleColor": "#222222", "titleFontWeight": "normal", "tickColor": "#1a1a1a", "labelFont": "DejaVu Sans", "titleFont": "DejaVu Sans"}
}
}
